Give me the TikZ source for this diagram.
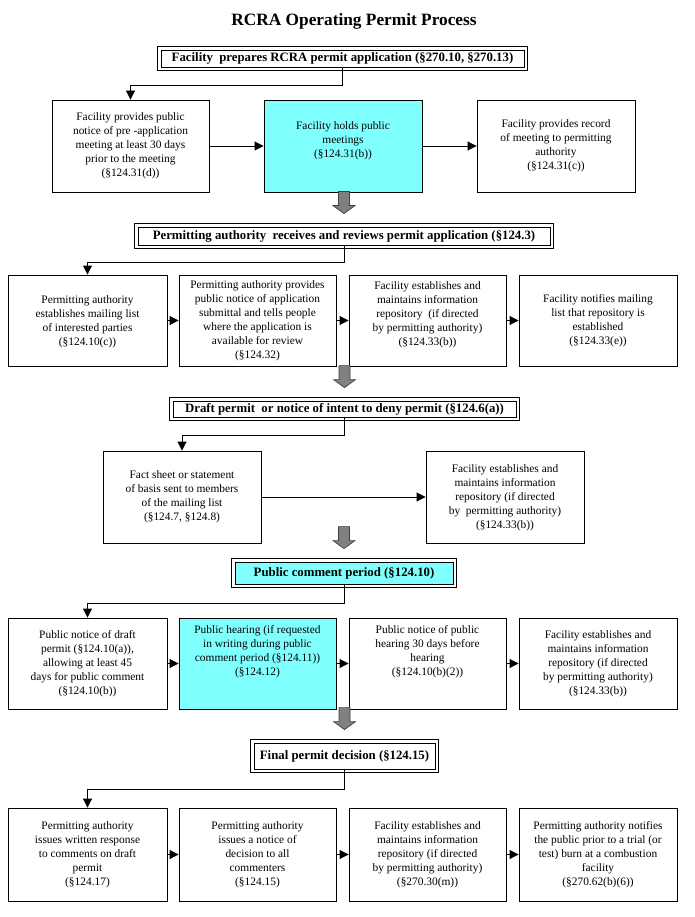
\documentclass[tikz,border=0pt]{standalone}
\usepackage{fontspec}
\setmainfont{Liberation Serif}
\usetikzlibrary{arrows.meta,calc}
\definecolor{lcyan}{RGB}{128,255,255}
\definecolor{grayarr}{RGB}{128,128,128}
\begin{document}
\begin{tikzpicture}[x=1pt,y=-1pt,
  box/.style={draw, line width=0.9pt, align=center, inner sep=0pt,
    minimum width=#1, minimum height=92pt,
    font=\fontsize{11.4}{14}\selectfont},
  box/.default=158pt,
  cyanfill/.style={fill=lcyan},
  raisetext/.style={text depth=#1},
  header/.style={draw, line width=0.8pt,
    inner sep=0pt, minimum width=#1, minimum height=17pt,
    font=\bfseries\fontsize{12.8}{15}\selectfont},
  outerframe/.style={draw, line width=0.8pt},
  arr/.style={-{Triangle[length=9pt,width=9pt]}, line width=0.9pt},
  blockarrow/.style={fill=grayarr, draw=black!75, line width=0.7pt, line join=miter}
]
\fill[white] (0,0) rectangle (695,917);
\useasboundingbox (0,0) rectangle (695,917);

\node[font=\bfseries\fontsize{17.3}{20}\selectfont] (title) at (354,21) {RCRA Operating Permit Process};

% ---------- stage 1
\node[header=363pt] (H1) at (342.5,58.5) {Facility\ \ prepares RCRA permit application (§270.10, §270.13)};
\draw[outerframe] ($(H1.north west)+(-3,-3)$) rectangle ($(H1.south east)+(3,3)$);
\node[box=157pt] (B1) at (130.5,146) {Facility provides public\\notice of pre -application\\meeting at least 30 days\\prior to the meeting\\(§124.31(d))};
\node[box=158pt, cyanfill, raisetext=12pt] (B2) at (343,146) {Facility holds public\\meetings\\(§124.31(b))};
\node[box=158pt] (B3) at (556,146) {Facility provides record\\of meeting to permitting\\authority\\(§124.31(c))};
\draw[arr] (H1.south) -- ++(0,18) -| (B1.north);
\draw[arr] (B1.east) -- (B2.west);
\draw[arr] (B2.east) -- (B3.west);

% ---------- stage 2
\node[header=412pt, minimum height=18pt] (H2) at (344,236) {Permitting authority\ \ receives and reviews permit application (§124.3)};
\draw[outerframe] ($(H2.north west)+(-3,-3)$) rectangle ($(H2.south east)+(3,3)$);
\draw[blockarrow] ($(H2.north)+(-5.5,-35)$) -- ++(11,0) -- ++(0,14) -- ++(5.5,0) -- ++(-11,8) -- ++(-11,-8) -- ++(5.5,0) -- cycle;
\node[box=159pt, minimum height=91pt, raisetext=-6pt] (C1) at (87.5,320.5) {Permitting authority\\establishes mailing list\\of interested parties\\(§124.10(c))};
\node[box=157pt, minimum height=91pt] (C2) at (257.5,320.5) {Permitting authority provides\\public notice of application\\submittal and tells people\\where the application is\\available for review\\(§124.32)};
\node[box=157pt, minimum height=91pt, raisetext=14pt] (C3) at (427.5,320.5) {Facility establishes and\\maintains information\\repository\ \ (if directed\\by permitting authority)\\(§124.33(b))};
\node[box=158pt, minimum height=91pt] (C4) at (598,320.5) {Facility notifies mailing\\list that repository is\\established\\(§124.33(e))};
\draw[arr] (H2.south) -- ++(0,17) -| (C1.north);
\draw[arr] (C1.east) -- (C2.west);
\draw[arr] (C2.east) -- (C3.west);
\draw[arr] (C3.east) -- (C4.west);

% ---------- stage 3
\node[header=343pt, minimum height=16pt] (H3) at (344.5,409) {Draft permit\ \ or notice of intent to deny permit (§124.6(a))};
\draw[outerframe] ($(H3.north west)+(-3,-3)$) rectangle ($(H3.south east)+(3,3)$);
\draw[blockarrow] ($(H3.north)+(-5.5,-35)$) -- ++(11,0) -- ++(0,14) -- ++(5.5,0) -- ++(-11,8) -- ++(-11,-8) -- ++(5.5,0) -- cycle;
\node[box=158pt] (D1) at (182,497) {Fact sheet or statement\\of basis sent to members\\of the mailing list\\(§124.7, §124.8)};
\node[box=158pt, raisetext=-6pt] (D2) at (505,497) {Facility establishes and\\maintains information\\repository (if directed\\by\ \ permitting authority)\\(§124.33(b))};
\draw[arr] (H3.south) -- ++(0,18) -| (D1.north);
\draw[arr] (D1.east) -- (D2.west);

% ---------- stage 4
\node[header=218pt, minimum height=22pt, cyanfill] (H4) at (344,573) {Public comment period (§124.10)};
\draw[outerframe] ($(H4.north west)+(-3,-3)$) rectangle ($(H4.south east)+(3,3)$);
\draw[blockarrow] ($(H4.north)+(-5.5,-35)$) -- ++(11,0) -- ++(0,14) -- ++(5.5,0) -- ++(-11,8) -- ++(-11,-8) -- ++(5.5,0) -- cycle;
\node[box=159pt, minimum height=91pt] (E1) at (87.5,663.5) {Public notice of draft\\permit (§124.10(a)),\\allowing at least 45\\days for public comment\\(§124.10(b))};
\node[box=157pt, minimum height=91pt, cyanfill, raisetext=27pt] (E2) at (257.5,663.5) {Public hearing (if requested\\in writing during public\\comment period (§124.11))\\(§124.12)};
\node[box=157pt, minimum height=91pt, raisetext=27pt] (E3) at (427.5,663.5) {Public notice of public\\hearing 30 days before\\hearing\\(§124.10(b)(2))};
\node[box=158pt, minimum height=91pt] (E4) at (598,663.5) {Facility establishes and\\maintains information\\repository (if directed\\by permitting authority)\\(§124.33(b))};
\draw[arr] (H4.south) -- ++(0,19) -| (E1.north);
\draw[arr] (E1.east) -- (E2.west);
\draw[arr] (E2.east) -- (E3.west);
\draw[arr] (E3.east) -- (E4.west);

% ---------- stage 5
\node[header=181pt, minimum height=26pt] (H5) at (344.5,756) {Final permit decision (§124.15)};
\draw[outerframe] ($(H5.north west)+(-3,-3)$) rectangle ($(H5.south east)+(3,3)$);
\draw[blockarrow] ($(H5.north)+(-5.5,-35)$) -- ++(11,0) -- ++(0,14) -- ++(5.5,0) -- ++(-11,8) -- ++(-11,-8) -- ++(5.5,0) -- cycle;
\node[box=159pt, minimum height=93pt] (F1) at (87.5,854.5) {Permitting authority\\issues written response\\to comments on draft\\permit\\(§124.17)};
\node[box=157pt, minimum height=93pt] (F2) at (257.5,854.5) {Permitting authority\\issues a notice of\\decision to all\\commenters\\(§124.15)};
\node[box=157pt, minimum height=93pt] (F3) at (427.5,854.5) {Facility establishes and\\maintains information\\repository (if directed\\by permitting authority)\\(§270.30(m))};
\node[box=158pt, minimum height=93pt] (F4) at (598,854.5) {Permitting authority notifies\\the public prior to a trial (or\\test) burn at a combustion\\facility\\(§270.62(b)(6))};
\draw[arr] (H5.south) -- ++(0,20) -| (F1.north);
\draw[arr] (F1.east) -- (F2.west);
\draw[arr] (F2.east) -- (F3.west);
\draw[arr] (F3.east) -- (F4.west);
\end{tikzpicture}
\end{document}
